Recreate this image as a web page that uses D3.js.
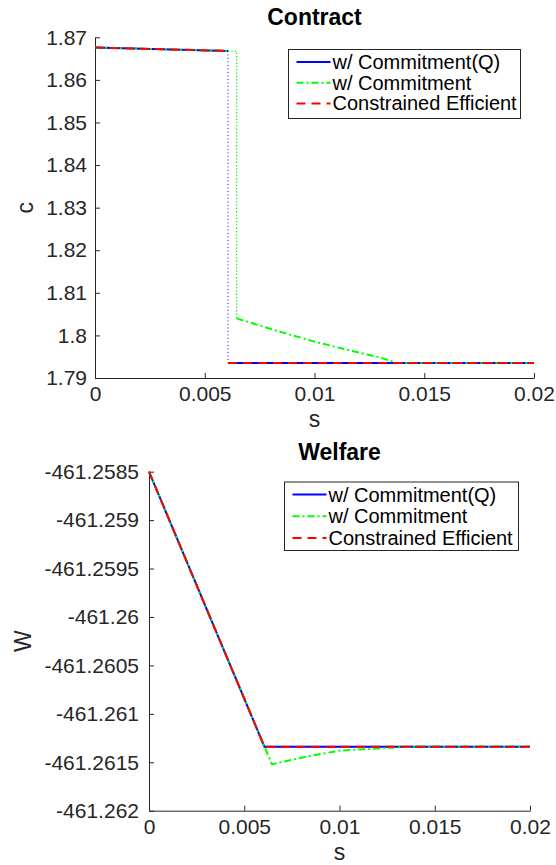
<!DOCTYPE html>
<html>
<head>
<meta charset="utf-8">
<script src="https://cdn.jsdelivr.net/npm/d3@7"></script>
<style>
  html, body { margin: 0; padding: 0; background: #fff; }
  svg { display: block; font-family: "Liberation Sans", Arial, Helvetica, sans-serif; }
</style>
</head>
<body>
<svg id="fig" width="556" height="865"></svg>
<script>
// ---- Contract panel data ----
const sJump = 0.00606;          // where the Q / constrained-efficient contract drops
const sJumpC = 0.00645;         // where the commitment contract drops
const cQ_pre_s = [0, sJump];
const cQ_pre = [1.8676, 1.8668];
const cQ_post_s = [sJump, 0.02];
const cQ_post = [1.7935, 1.7935];
const cC_pre_s = [0, sJump];
const cC_pre = [1.8676, 1.8668];
const cC_post_s = [sJumpC, 0.0084, 0.0099, 0.0115, 0.0130, 0.01376, 0.02];
const cC_post = [1.8040, 1.8009, 1.7987, 1.7966, 1.7948, 1.7935, 1.7935];
const cC_gap = 1.8667;          // level of the commitment contract just before its drop

// ---- Welfare panel data ----
const wQ_s = [0, sJump, 0.02];
const wQ = [-461.2585, -461.26134, -461.26134];
const wC_s = [0, sJumpC, 0.0083, 0.0100, 0.0118, 0.0135, 0.02];
const wC = [-461.2585, -461.26152, -461.26144, -461.26138, -461.26136, -461.26134, -461.26134];

// ---- Ticks ----
const sTicks = [0, 0.005, 0.01, 0.015, 0.02];
const sTickLabels = ["0", "0.005", "0.01", "0.015", "0.02"];
const cTicks = [1.79, 1.80, 1.81, 1.82, 1.83, 1.84, 1.85, 1.86, 1.87];
const cTickLabels = ["1.79", "1.8", "1.81", "1.82", "1.83", "1.84", "1.85", "1.86", "1.87"];
const wTicks = [-461.262, -461.2615, -461.261, -461.2605, -461.26, -461.2595, -461.259, -461.2585];
const wTickLabels = ["-461.262", "-461.2615", "-461.261", "-461.2605", "-461.26", "-461.2595", "-461.259", "-461.2585"];

const seriesNames = ["w/ Commitment(Q)", "w/ Commitment", "Constrained Efficient"];
const seriesColors = ["#0000ff", "#00ff00", "#ff0000"];
const seriesDash = [null, "7,3,2,3", "9,6"];

const axisColor = "#262626";
const svg = d3.select("#fig");

function panel(opts) {
  const g = svg.append("g");
  const x = d3.scaleLinear().domain([0, 0.02]).range([opts.left, opts.right]);
  const y = d3.scaleLinear().domain(opts.yDomain).range([opts.bottom, opts.top]);

  // axes (ticks point inward)
  const xAxis = d3.axisBottom(x).tickValues(sTicks)
    .tickFormat((d, i) => sTickLabels[i]).tickSizeInner(-5).tickSizeOuter(0).tickPadding(8);
  const yAxis = d3.axisLeft(y).tickValues(opts.yTicks)
    .tickFormat((d, i) => opts.yTickLabels[i]).tickSizeInner(-5).tickSizeOuter(0).tickPadding(opts.yPad);

  const gx = g.append("g").attr("transform", `translate(0,${opts.bottom})`).call(xAxis);
  const gy = g.append("g").attr("transform", `translate(${opts.left},0)`).call(yAxis);
  [gx, gy].forEach(a => {
    a.select(".domain").attr("stroke", axisColor).attr("stroke-width", 1);
    a.selectAll(".tick line").attr("stroke", axisColor).attr("stroke-width", 1);
    a.selectAll(".tick text").attr("fill", axisColor)
      .style("font-size", "21px").style("font-family", "Liberation Sans, Arial, sans-serif");
  });

  // title
  g.append("text").attr("x", (opts.left + opts.right) / 2).attr("y", opts.top - 12)
    .attr("text-anchor", "middle").style("font-size", "23px").style("font-weight", "bold")
    .attr("fill", "#000").text(opts.title);
  // x label
  g.append("text").attr("x", (opts.left + opts.right) / 2).attr("y", opts.bottom + 49)
    .attr("text-anchor", "middle").style("font-size", "23px").attr("fill", axisColor).text("s");
  // y label
  g.append("text").attr("transform", `translate(${opts.yLabelX},${(opts.top + opts.bottom) / 2}) rotate(-90)`)
    .attr("text-anchor", "middle").style("font-size", "23px").attr("fill", axisColor).text(opts.yLabel);

  const line = d3.line().x(d => x(d[0])).y(d => y(d[1]));
  const plot = g.append("g");
  opts.draw(plot, x, y, line);

  // legend
  const lg = g.append("g").attr("transform", `translate(${opts.legX},${opts.legY})`);
  lg.append("rect").attr("x", 0).attr("y", 0).attr("width", opts.legW).attr("height", opts.legH)
    .attr("fill", "#fff").attr("stroke", axisColor).attr("stroke-width", 1);
  seriesNames.forEach((name, i) => {
    const yy = opts.legRow0 + i * opts.legStep;
    lg.append("line").attr("x1", 8).attr("x2", 42).attr("y1", yy).attr("y2", yy)
      .attr("stroke", seriesColors[i]).attr("stroke-width", 2)
      .attr("stroke-dasharray", seriesDash[i]);
    lg.append("text").attr("x", 44).attr("y", yy).attr("dy", "0.35em")
      .style("font-size", "20px").attr("fill", "#000").text(name);
  });
}

function pathOf(plot, line, pts, i) {
  const p = plot.append("path").datum(pts).attr("d", line).attr("fill", "none")
    .attr("stroke", seriesColors[i]).attr("stroke-width", 2);
  if (seriesDash[i]) p.attr("stroke-dasharray", seriesDash[i]);
  return p;
}
const zip = (a, b) => a.map((v, k) => [v, b[k]]);

// Contract panel
panel({
  title: "Contract", yLabel: "c", yLabelX: 33, yPad: 8,
  left: 95, right: 534, top: 37.3, bottom: 378,
  yDomain: [1.79, 1.87], yTicks: cTicks, yTickLabels: cTickLabels,
  legX: 288.5, legY: 49.5, legW: 232, legH: 69, legRow0: 12.5, legStep: 20.7,
  draw(plot, x, y, line) {
    // discontinuity connectors (dotted)
    plot.append("path").datum([[cQ_pre_s[1], cQ_pre[1]], [cQ_post_s[0], cQ_post[0]]])
      .attr("d", line).attr("fill", "none").attr("stroke", seriesColors[0])
      .attr("stroke-width", 1).attr("stroke-dasharray", "1,2.5");
    plot.append("path").datum([[cC_pre_s[1], cC_pre[1]], [sJumpC, cC_gap], [cC_post_s[0], cC_post[0]]])
      .attr("d", line).attr("fill", "none").attr("stroke", seriesColors[1])
      .attr("stroke-width", 1.3).attr("stroke-dasharray", "1.3,2");
    // series
    pathOf(plot, line, zip(cQ_pre_s, cQ_pre), 0);
    pathOf(plot, line, zip(cQ_post_s, cQ_post), 0);
    pathOf(plot, line, zip(cC_pre_s, cC_pre), 1);
    pathOf(plot, line, zip(cC_post_s, cC_post), 1);
    pathOf(plot, line, zip(cQ_pre_s, cQ_pre), 2);
    pathOf(plot, line, zip(cQ_post_s, cQ_post), 2);
  }
});

// Welfare panel
panel({
  title: "Welfare", yLabel: "W", yLabelX: 31, yPad: 10,
  left: 149, right: 530, top: 471.7, bottom: 810.7,
  yDomain: [-461.262, -461.2585], yTicks: wTicks, yTickLabels: wTickLabels,
  legX: 284.5, legY: 482, legW: 234, legH: 68.5, legRow0: 12.5, legStep: 21.7,
  draw(plot, x, y, line) {
    pathOf(plot, line, zip(wQ_s, wQ), 0);
    pathOf(plot, line, zip(wC_s, wC), 1);
    pathOf(plot, line, zip(wQ_s, wQ), 2);
  }
});
</script>
</body>
</html>
